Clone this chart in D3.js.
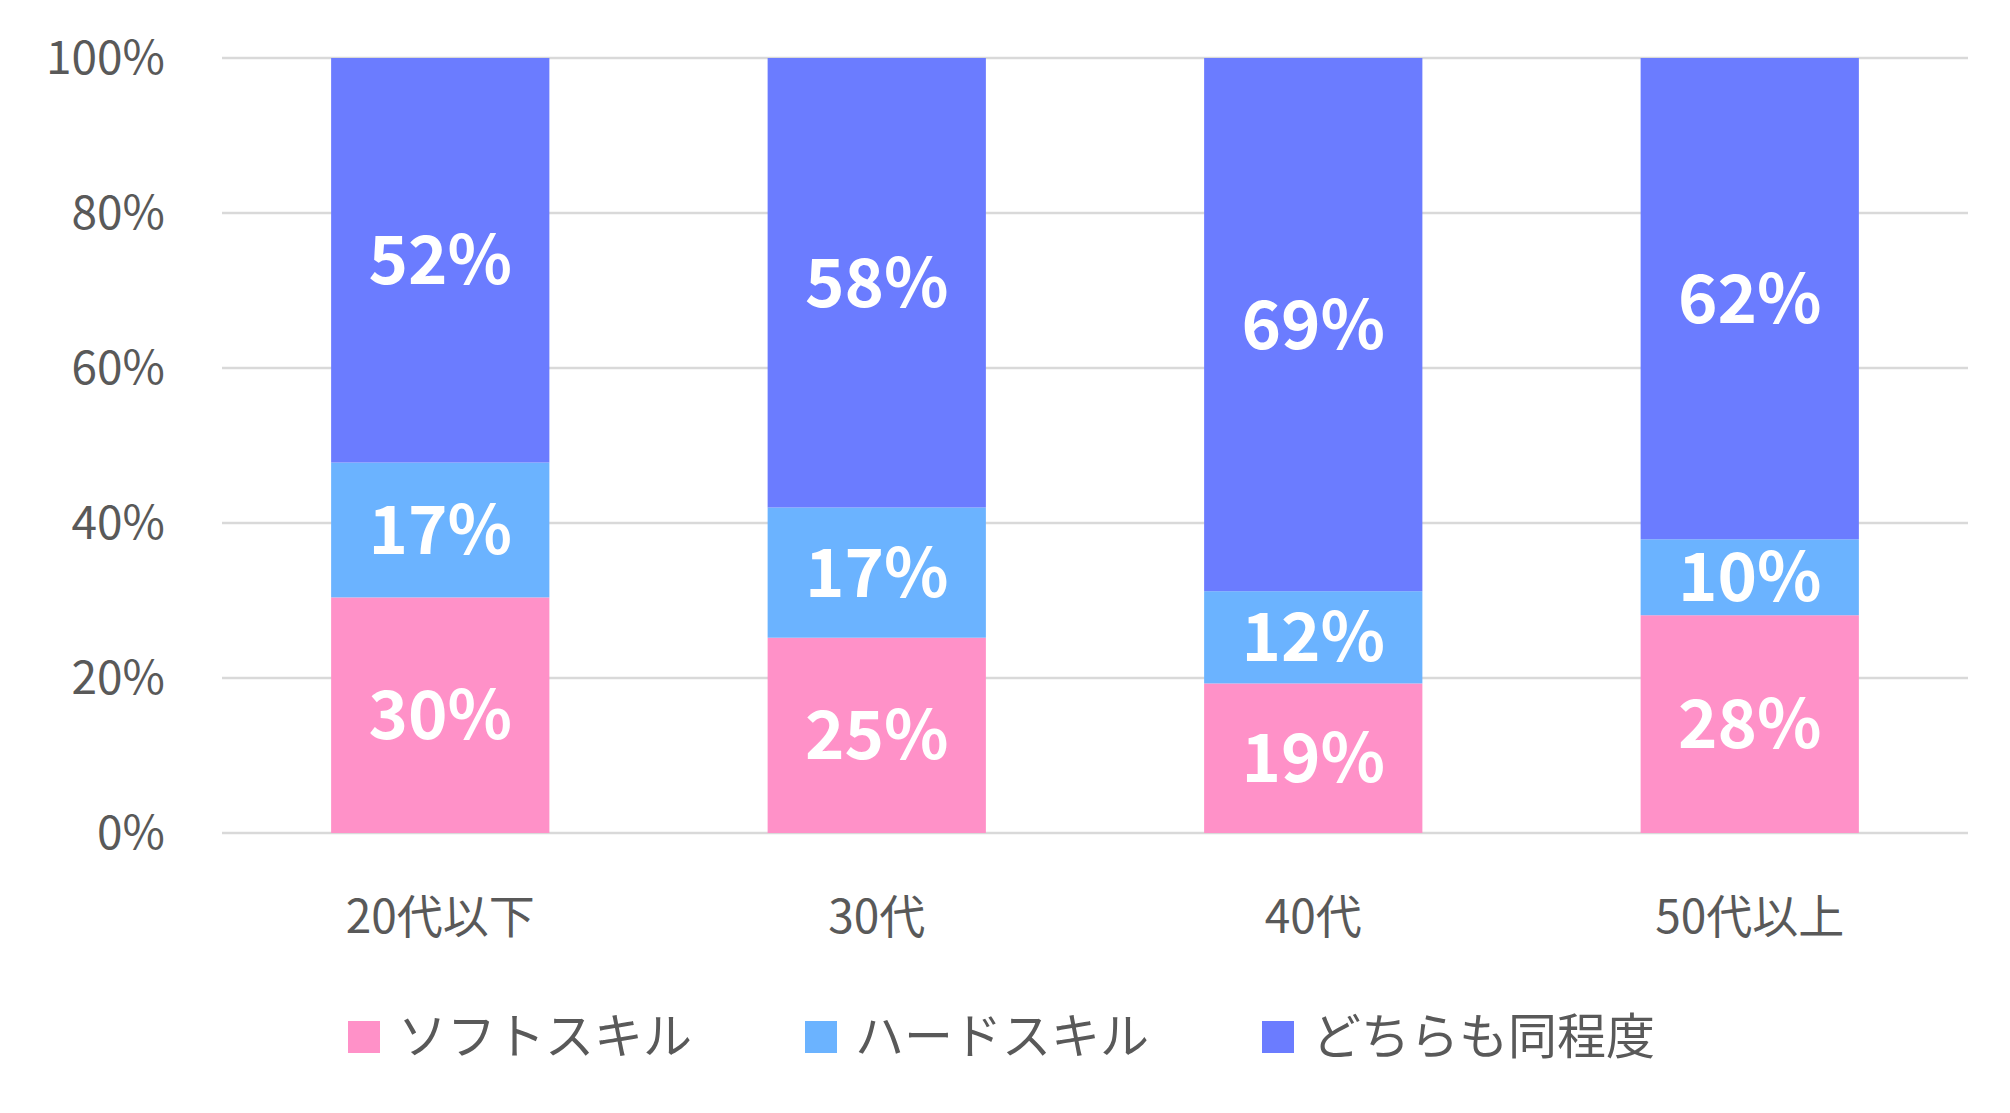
<!DOCTYPE html>
<html>
<head>
<meta charset="utf-8"/>
<script src="https://cdn.jsdelivr.net/npm/d3@7"></script>
<style>
body { margin: 0; background: #fff; }
text { font-family: "Noto Sans CJK JP", sans-serif; }
</style>
</head>
<body>
<svg width="2010" height="1113"></svg>
<script>
var categories = ["20代以下", "30代", "40代", "50代以上"];
var seriesNames = ["ソフトスキル", "ハードスキル", "どちらも同程度"];
var soft = [30.4, 25.2, 19.3, 28.1];
var hard = [17.4, 16.8, 11.9, 9.8];
var both = [52.2, 58.0, 68.8, 62.1];
var yTicks = [0, 20, 40, 60, 80, 100];
var colors = ["#FF91C8", "#6BB3FF", "#6B7CFF"];

var svg = d3.select("svg"),
    plotLeft = 222, plotRight = 1968, plotTop = 58, plotBottom = 833;

var x = d3.scaleBand().domain(categories).range([plotLeft, plotRight]).paddingInner(0.5).paddingOuter(0.25);
var y = d3.scaleLinear().domain([0, 100]).range([plotBottom, plotTop]);

// grid lines
svg.append("g").selectAll("line").data(yTicks).enter().append("line")
    .attr("x1", plotLeft).attr("x2", plotRight)
    .attr("y1", function(d) { return y(d); }).attr("y2", function(d) { return y(d); })
    .attr("stroke", "#d9d9d9").attr("stroke-width", 2.5);

svg.append("g").selectAll("text").data(yTicks).enter().append("text")
    .attr("x", 165).attr("y", function(d) { return y(d); })
    .attr("dy", "0.35em").attr("text-anchor", "end")
    .attr("font-size", 46).attr("fill", "#595959")
    .text(function(d) { return d + "%"; });

var rows = categories.map(function(c, i) {
  return {cat: c, soft: soft[i], hard: hard[i], both: both[i]};
});
var stack = d3.stack().keys(["soft", "hard", "both"])(rows);

var layer = svg.append("g").selectAll("g").data(stack).enter().append("g")
    .attr("fill", function(d, i) { return colors[i]; });

layer.selectAll("rect").data(function(d) { return d; }).enter().append("rect")
    .attr("x", function(d) { return x(d.data.cat); })
    .attr("width", x.bandwidth())
    .attr("y", function(d) { return y(Math.min(d[1], 100)); })
    .attr("height", function(d) { return y(d[0]) - y(Math.min(d[1], 100)); });

layer.selectAll("text").data(function(d) { return d; }).enter().append("text")
    .attr("x", function(d) { return x(d.data.cat) + x.bandwidth() / 2; })
    .attr("y", function(d) { return y((d[0] + Math.min(d[1], 100)) / 2); })
    .attr("dy", "0.36em").attr("text-anchor", "middle")
    .attr("font-size", 67).attr("font-weight", "bold").attr("fill", "#fff")
    .text(function(d) { return Math.round(d[1] - d[0]) + "%"; });

// category labels
svg.append("g").selectAll("text").data(categories).enter().append("text")
    .attr("x", function(d) { return x(d) + x.bandwidth() / 2; })
    .attr("y", 917).attr("dy", "0.35em").attr("text-anchor", "middle")
    .attr("font-size", 46).attr("fill", "#595959")
    .text(function(d) { return d; });

// legend
var legendX = [348, 805, 1262];
var lg = svg.append("g").selectAll("g").data(seriesNames).enter().append("g")
    .attr("transform", function(d, i) { return "translate(" + legendX[i] + ",1037)"; });
lg.append("rect").attr("x", 0).attr("y", -16).attr("width", 32).attr("height", 32)
    .attr("fill", function(d, i) { return colors[i]; });
lg.append("text").attr("x", 50).attr("dy", "0.35em")
    .attr("font-size", 49).attr("fill", "#595959")
    .text(function(d) { return d; });
</script>
</body>
</html>
